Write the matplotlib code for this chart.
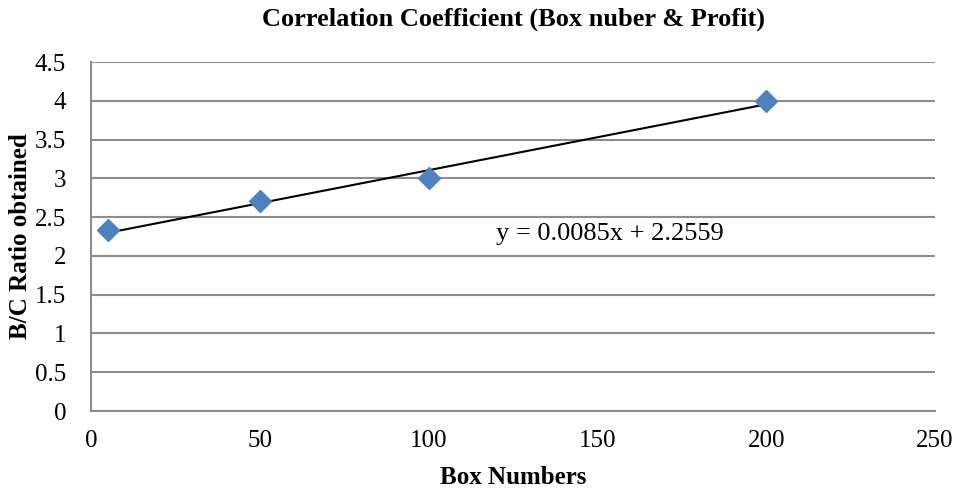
import matplotlib.pyplot as plt
import numpy as np

plt.rcParams['font.family'] = 'Liberation Serif'

box_numbers = [5, 50, 100, 200]
bc_ratio = [2.33, 2.71, 3.0, 4.0]
slope = 0.0085
intercept = 2.2559

fig = plt.figure(figsize=(9.6, 4.93), dpi=100)
ax = fig.add_axes([0.0948, 0.1663, 0.8792, 0.7077])

# trendline over the data range
xs = np.array([min(box_numbers), max(box_numbers)])
ax.plot(xs, slope * xs + intercept, color='black', linewidth=1.5, zorder=3)
ax.plot(box_numbers, bc_ratio, linestyle='none', marker='D', markersize=11.5,
        color='#4F81BD', zorder=4)

ax.text(120, 2.28, 'y = 0.0085x + 2.2559', fontsize=19, va='center', ha='left')

ax.set_xlim(0, 250)
ax.set_ylim(0, 4.5)
ax.set_xticks(np.arange(0, 251, 50))
ax.set_yticks(np.arange(0, 4.51, 0.5))
ax.set_yticklabels(['0', '0.5', '1', '1.5', '2', '2.5', '3', '3.5', '4', '4.5'])
ax.grid(axis='y', color='#8c8c8c', linewidth=1.5)
ax.set_axisbelow(True)
ax.tick_params(length=0, labelsize=18)
ax.tick_params(axis='x', pad=14)
ax.tick_params(axis='y', pad=18)
for side in ['top', 'right']:
    ax.spines[side].set_visible(False)
for side in ['left', 'bottom']:
    ax.spines[side].set_color('#8c8c8c')
    ax.spines[side].set_linewidth(1.5)

ax.set_xlabel('Box Numbers', fontsize=18, fontweight='bold', labelpad=10)
ax.set_ylabel('B/C Ratio obtained', fontsize=18, fontweight='bold', labelpad=2)
ax.set_title('Correlation Coefficient (Box nuber & Profit)', fontsize=19,
             fontweight='bold', pad=26)

fig.savefig('out.png', dpi=100)
